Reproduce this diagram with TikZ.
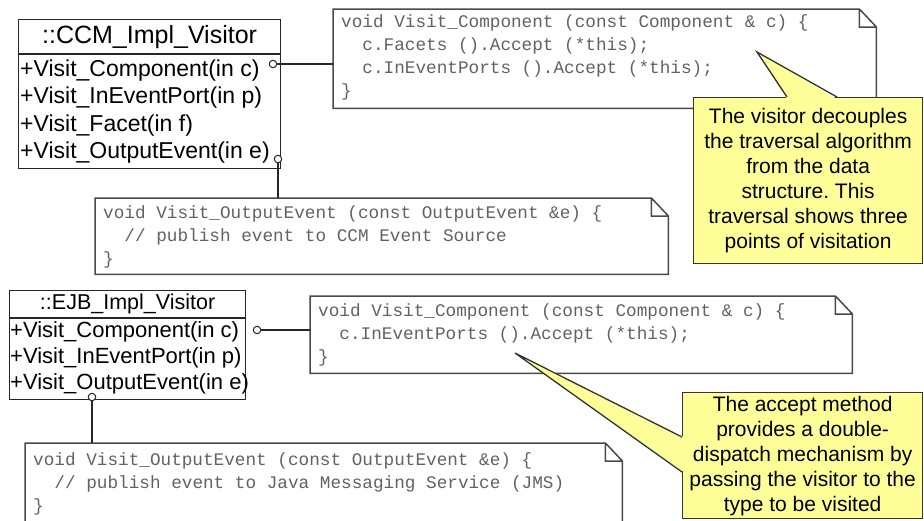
\documentclass[tikz,border=0pt]{standalone}
\usepackage{fontspec}
\setmainfont{Liberation Sans}
\newfontfamily\codefont{Liberation Mono}
\definecolor{codegray}{HTML}{626262}
\definecolor{notegray}{HTML}{4A4A4A}
\definecolor{tipyellow}{HTML}{FFFF99}
\frenchspacing

\begin{document}
\begin{tikzpicture}
  [x=1pt, y=-1pt,
    classpart/.style={draw=black!85, line width=1.2pt, anchor=north west, inner sep=0pt},
    classtitle/.style={font=\fontsize{25}{29}\selectfont},
    method/.style={anchor=base west, inner sep=0pt, font=\fontsize{23}{27}\selectfont},
    port/.style={circle, draw=black!85, fill=white, line width=1pt, inner sep=0pt, minimum size=7.5pt},
    codenote/.style={anchor=north west, inner sep=0pt},
    codetext/.style={anchor=north west, inner sep=0pt, align=left, text=codegray,
      font=\codefont\fontsize{17.7}{23.3}\selectfont},
    bubble/.style={draw=black!80, fill=tipyellow, line width=1.3pt, anchor=north west,
      inner sep=0pt, align=center, font=\fontsize{21}{25}\selectfont},
    link/.style={draw=black!85, line width=1.2pt},
  ]
  \useasboundingbox (0,0) rectangle (924,520);
  \clip (0,0) rectangle (924,520);

  % CCM visitor
  \node[classpart, classtitle, minimum width=262pt, minimum height=34pt] (ccm title) at (18,19) {::CCM\_Impl\_Visitor};
  \node[classpart, minimum width=262pt, minimum height=114pt] (ccm body) at (ccm title.south west) {};
  \node[method] (ccm comp) at (20,76) {+Visit\_Component(in c)};
  \node[method] (ccm inport) at (20,103) {+Visit\_InEventPort(in p)};
  \node[method] (ccm facet) at (20,131) {+Visit\_Facet(in f)};
  \node[method] (ccm out) at (20,158) {+Visit\_OutputEvent(in e)};

  % EJB visitor
  \node[classpart, classtitle, font=\fontsize{21.5}{25}\selectfont, minimum width=236pt, minimum height=27pt] (ejb title) at (9,290) {::EJB\_Impl\_Visitor};
  \node[classpart, minimum width=236pt, minimum height=81pt] (ejb body) at (ejb title.south west) {};
  \node[method, font=\fontsize{22}{26}\selectfont] (ejb comp) at (10,337) {+Visit\_Component(in c)};
  \node[method, font=\fontsize{22}{26}\selectfont] (ejb inport) at (10,363) {+Visit\_InEventPort(in p)};
  \node[method, font=\fontsize{22}{26}\selectfont] (ejb out) at (10,389) {+Visit\_OutputEvent(in e)};

  % code notes
  \node[codenote, minimum width=543pt, minimum height=99pt] (ccm comp note) at (333,9) {};
  \node[codetext] (ccm comp code) at (341,14) {void Visit\_Component (const Component \& c) \{\\
    \phantom{cc}c.Facets ().Accept (*this);\\
    \phantom{cc}c.InEventPorts ().Accept (*this);\\
    \}};
  \node[codenote, minimum width=573pt, minimum height=76pt] (ccm out note) at (95,198) {};
  \node[codetext] (ccm out code) at (103,205) {void Visit\_OutputEvent (const OutputEvent \&e) \{\\
    \phantom{cc}// publish event to CCM Event Source\\
    \}};
  \node[codenote, minimum width=542pt, minimum height=77pt] (ejb comp note) at (310,296) {};
  \node[codetext] (ejb comp code) at (318,303) {void Visit\_Component (const Component \& c) \{\\
    \phantom{cc}c.InEventPorts ().Accept (*this);\\
    \}};
  \node[codenote, minimum width=597pt, minimum height=90pt] (ejb out note) at (25,443) {};
  \node[codetext] (ejb out code) at (33,452) {void Visit\_OutputEvent (const OutputEvent \&e) \{\\
    \phantom{cc}// publish event to Java Messaging Service (JMS)\\
    \}};

  \foreach \n in {ccm comp note, ccm out note, ejb comp note, ejb out note}
    \draw[notegray, line width=1.5pt, line join=miter]
      (\n.south west) -- (\n.north west) -- ([xshift=-17pt]\n.north east)
      -- ([yshift=-18pt]\n.north east) -- (\n.south east) -- cycle
      ([xshift=-17pt]\n.north east) |- ([yshift=-18pt]\n.north east);

  % attachments
  \node[port] (ccm comp dot) at (273,64) {};
  \node[port] (ccm out dot) at (278,159) {};
  \node[port] (ejb comp dot) at (257,330) {};
  \node[port] (ejb out dot) at (92,397) {};
  \draw[link] (ccm comp dot) -- (ccm comp dot -| ccm comp note.west);
  \draw[link] (ccm out dot) -- (ccm out dot |- ccm out note.north);
  \draw[link] (ejb comp dot) -- (ejb comp dot -| ejb comp note.west);
  \draw[link] (ejb out dot) -- (ejb out dot |- ejb out note.north);

  % comments
  \node[bubble, minimum width=229pt, minimum height=166pt] (visitor tip) at (693,97)
    {The visitor decouples\\the traversal algorithm\\from the data\\structure. This\\traversal shows three\\points of visitation};
  \coordinate (visitor point) at (757,52);
  \fill[tipyellow] ([xshift=94pt,yshift=-2pt]visitor tip.north west) -- (visitor point)
    -- ([xshift=144pt,yshift=-2pt]visitor tip.north west) -- cycle;
  \draw[black!80, line width=1.3pt] ([xshift=94pt]visitor tip.north west) -- (visitor point)
    -- ([xshift=144pt]visitor tip.north west);

  \node[bubble, minimum width=240pt, minimum height=126pt] (accept tip) at (682,392)
    {The accept method\\provides a double-\\dispatch mechanism by\\passing the visitor to the\\type to be visited};
  \coordinate (accept point) at (515,353);
  \fill[tipyellow] ([xshift=2pt,yshift=-45pt]accept tip.north west) -- (accept point)
    -- ([xshift=2pt,yshift=-80pt]accept tip.north west) -- cycle;
  \draw[black!80, line width=1.3pt] ([yshift=-45pt]accept tip.north west) -- (accept point)
    -- ([yshift=-80pt]accept tip.north west);
\end{tikzpicture}
\end{document}
